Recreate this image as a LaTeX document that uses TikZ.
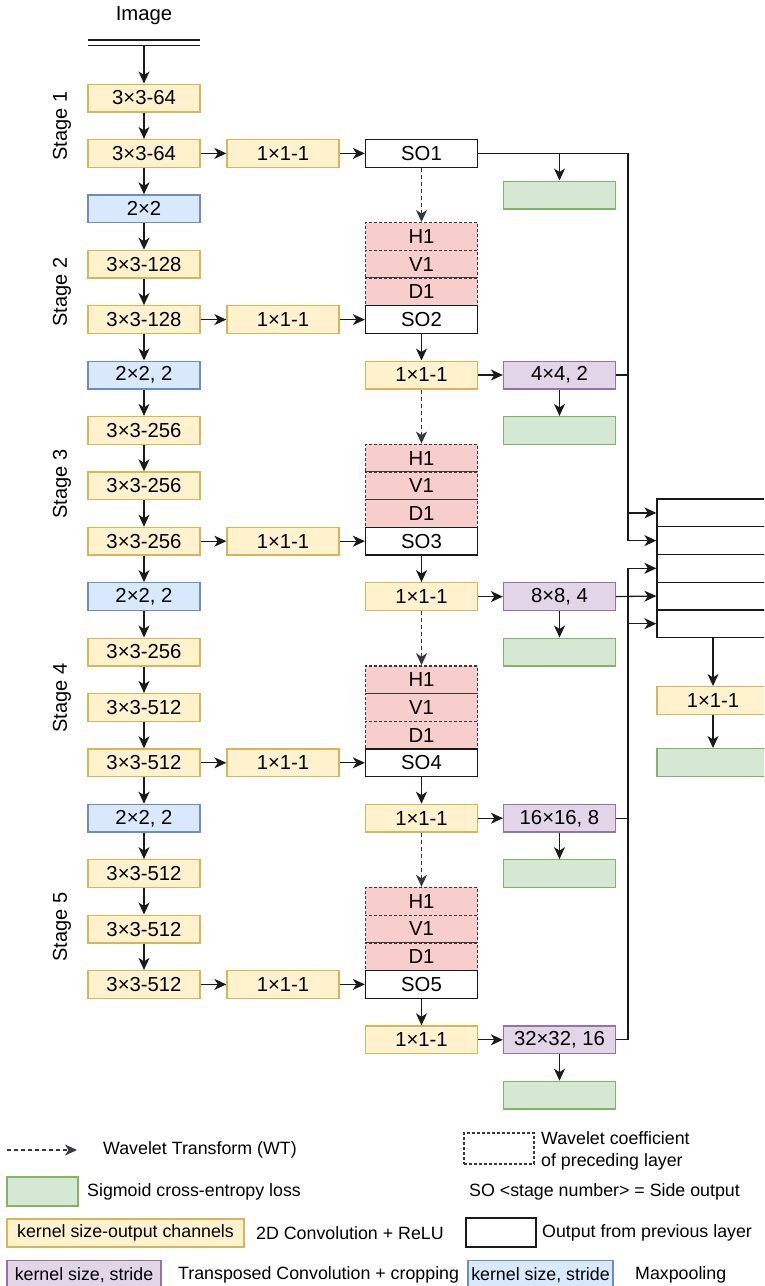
\documentclass[tikz,border=0pt]{standalone}
\usepackage{fontspec}
\setmainfont{Liberation Sans}
\usetikzlibrary{arrows.meta}
\definecolor{yfill}{HTML}{FFF2CC}\definecolor{ydraw}{HTML}{D6B656}
\definecolor{bfill}{HTML}{DAE8FC}\definecolor{bdraw}{HTML}{6C8EBF}
\definecolor{gfill}{HTML}{D5E8D4}\definecolor{gdraw}{HTML}{82B366}
\definecolor{pfill}{HTML}{E1D5E7}\definecolor{pdraw}{HTML}{9673A6}
\definecolor{rfill}{HTML}{F8CECC}
\definecolor{lnc}{HTML}{1A1A1A}
\definecolor{wtc}{HTML}{36393D}
\begin{document}
\begin{tikzpicture}[x=1pt,y=-1pt,
  box/.style={draw, line width=1.3pt, minimum width=112pt, minimum height=27.7pt, inner sep=0pt, font=\fontsize{20.3}{24}\selectfont},
  conv/.style={box, fill=yfill, draw=ydraw},
  pool/.style={box, fill=bfill, draw=bdraw},
  loss/.style={box, fill=gfill, draw=gdraw},
  deconv/.style={box, fill=pfill, draw=pdraw},
  so/.style={box, fill=white, draw=lnc},
  wt/.style={box, fill=rfill, draw=wtc, dash pattern=on 3pt off 2pt},
  arr/.style={-{Stealth[length=12pt,width=11pt,inset=3.5pt]}, line width=1.3pt, draw=lnc},
  wtarr/.style={-{Stealth[length=12pt,width=11pt,inset=3.5pt]}, line width=1.3pt, draw=wtc, fill=wtc, dash pattern=on 4pt off 3pt},
  ln/.style={line width=1.3pt, draw=lnc},
  leg/.style={font=\fontsize{17.8}{22}\selectfont, anchor=west, inner sep=0pt},
  legbox/.style={draw, line width=1.3pt, inner sep=0pt, font=\fontsize{17.8}{22}\selectfont},
  stage/.style={rotate=90, font=\fontsize{20}{24}\selectfont, inner sep=0pt},
]
\useasboundingbox (0,0) rectangle (764,1286);
\clip (0,0) rectangle (764,1286);

% ---- input
\node[font=\fontsize{20.3}{24}\selectfont] (img) at (144,16) {Image};
\coordinate (imgL1) at (88,40); \coordinate (imgR1) at (200,40);
\coordinate (imgL2) at (88,45.5); \coordinate (imgR2) at (200,45.5);
\coordinate (imgin) at (144,45.5);
\draw[ln] (imgL1) -- (imgR1);
\draw[ln] (imgL2) -- (imgR2);

% ---- left column
\node[conv] (c0)  at (144,98)    {3×3-64};
\node[conv] (c1)  at (144,153.4) {3×3-64};
\node[pool] (c2)  at (144,208.8) {2×2};
\node[conv] (c3)  at (144,264.2) {3×3-128};
\node[conv] (c4)  at (144,319.6) {3×3-128};
\node[pool] (c5)  at (144,375)   {2×2, 2};
\node[conv] (c6)  at (144,430.4) {3×3-256};
\node[conv] (c7)  at (144,485.8) {3×3-256};
\node[conv] (c8)  at (144,541.2) {3×3-256};
\node[pool] (c9)  at (144,596.6) {2×2, 2};
\node[conv] (c10) at (144,652)   {3×3-256};
\node[conv] (c11) at (144,707.4) {3×3-512};
\node[conv] (c12) at (144,762.8) {3×3-512};
\node[pool] (c13) at (144,818.2) {2×2, 2};
\node[conv] (c14) at (144,873.6) {3×3-512};
\node[conv] (c15) at (144,929)   {3×3-512};
\node[conv] (c16) at (144,984.4) {3×3-512};

\draw[arr] (imgin) -- (c0.north);
\foreach \a/\b in {c0/c1,c1/c2,c2/c3,c3/c4,c4/c5,c5/c6,c6/c7,c7/c8,c8/c9,c9/c10,c10/c11,c11/c12,c12/c13,c13/c14,c14/c15,c15/c16}
  \draw[arr] (\a.south) -- (\b.north);

% ---- stage labels
\node[stage] (s1) at (62,126)   {Stage 1};
\node[stage] (s2) at (62,292)   {Stage 2};
\node[stage] (s3) at (62,484)   {Stage 3};
\node[stage] (s4) at (62,698)   {Stage 4};
\node[stage] (s5) at (62,927)   {Stage 5};

% ---- 1x1 side convs
\node[conv] (k1) at (283,153.4) {1×1-1};
\node[conv] (k2) at (283,319.6) {1×1-1};
\node[conv] (k3) at (283,541.2) {1×1-1};
\node[conv] (k4) at (283,762.8) {1×1-1};
\node[conv] (k5) at (283,984.4) {1×1-1};

% ---- wavelet coefficient stacks and side outputs
\node[wt] (h2) at (421.5,236.5) {H1};
\node[wt] (v2) at (421.5,264.2) {V1};
\node[wt] (d2) at (421.5,291.9) {D1};
\node[wt] (h3) at (421.5,458.1) {H1};
\node[wt] (v3) at (421.5,485.8) {V1};
\node[wt] (d3) at (421.5,513.5) {D1};
\node[wt] (h4) at (421.5,679.7) {H1};
\node[wt] (v4) at (421.5,707.4) {V1};
\node[wt] (d4) at (421.5,735.1) {D1};
\node[wt] (h5) at (421.5,901.3) {H1};
\node[wt] (v5) at (421.5,929)   {V1};
\node[wt] (d5) at (421.5,956.7) {D1};

\node[so] (so1) at (421.5,153.4) {SO1};
\node[so] (so2) at (421.5,319.6) {SO2};
\node[so] (so3) at (421.5,541.2) {SO3};
\node[so] (so4) at (421.5,762.8) {SO4};
\node[so] (so5) at (421.5,984.4) {SO5};

\node[conv] (m2) at (421.5,375)    {1×1-1};
\node[conv] (m3) at (421.5,596.6)  {1×1-1};
\node[conv] (m4) at (421.5,818.2)  {1×1-1};
\node[conv] (m5) at (421.5,1039.8) {1×1-1};

% ---- upsampling and losses
\node[deconv] (u2) at (559.5,375)    {4×4, 2};
\node[deconv] (u3) at (559.5,596.6)  {8×8, 4};
\node[deconv] (u4) at (559.5,818.2)  {16×16, 8};
\node[deconv] (u5) at (559.5,1039.8) {32×32, 16};

\node[loss] (l1) at (559.5,195)    {};
\node[loss] (l2) at (559.5,430.4)  {};
\node[loss] (l3) at (559.5,652)    {};
\node[loss] (l4) at (559.5,873.6)  {};
\node[loss] (l5) at (559.5,1095.2) {};

% ---- fusion
\node[so] (f1) at (713,512.9) {};
\node[so] (f2) at (713,540.6) {};
\node[so] (f3) at (713,568.3) {};
\node[so] (f4) at (713,596)   {};
\node[so] (f5) at (713,623.7) {};
\node[conv] (fc) at (713,700.5) {1×1-1};
\node[loss] (fl) at (713,762.5) {};

% ---- connectors: conv -> 1x1 -> SO
\foreach \a/\b/\c in {c1/k1/so1,c4/k2/so2,c8/k3/so3,c12/k4/so4,c16/k5/so5}{
  \draw[arr] (\a.east) -- (\b.west);
  \draw[arr] (\b.east) -- (\c.west);
}
% SO -> 1x1 -> deconv -> loss
\foreach \a/\b/\c/\d in {so2/m2/u2/l2,so3/m3/u3/l3,so4/m4/u4/l4,so5/m5/u5/l5}{
  \draw[arr] (\a.south) -- (\b.north);
  \draw[arr] (\b.east) -- (\c.west);
  \draw[arr] (\c.south) -- (\d.north);
}
% wavelet transforms
\draw[wtarr] (so1.south) -- (h2.north);
\draw[wtarr] (m2.south) -- (h3.north);
\draw[wtarr] (m3.south) -- (h4.north);
\draw[wtarr] (m4.south) -- (h5.north);

% bus A
\coordinate (bA) at (628,153.4);
\coordinate (bB) at (628,568.3);
\draw[arr] (so1.east) -- (bA) |- (f1.west);
\draw[arr] (f1.west -| bA) |- (f2.west);
\draw[arr] (so1.east -| l1.north) -- (l1.north);
\draw[ln] (u2.east) -- (u2.east -| bA);
% bus B
\draw[arr] (u5.east) -| (bB) -- (f3.west);
\draw[arr] (f5.west -| bB) -- (f5.west);
\draw[ln] (u4.east) -- (u4.east -| bB);
\draw[arr] (u3.east) -- (f4.west);
% fusion out
\draw[arr] (f5.south) -- (fc.north);
\draw[arr] (fc.south) -- (fl.north);

% ---- legend
\coordinate (la) at (7,1150); \coordinate (lb) at (77,1150);
\draw[wtarr] (la) -- (lb);
\node[leg] (t1) at (103,1150) {Wavelet Transform (WT)};

\node[legbox, draw=wtc, dash pattern=on 3pt off 2pt, minimum width=70pt, minimum height=31pt] (lw) at (499,1148.5) {};
\node[leg, align=left] (t2) at (541,1151) {Wavelet coefficient\\of preceding layer};

\node[legbox, fill=gfill, draw=gdraw, minimum width=71pt, minimum height=29pt] (lg) at (42.5,1191.5) {};
\node[leg] (t3) at (87,1192) {Sigmoid cross-entropy loss};
\node[leg] (t4) at (469,1192) {SO <stage number> = Side output};

\node[legbox, fill=yfill, draw=ydraw, minimum width=237pt, minimum height=28pt] (ly) at (125.5,1233) {kernel size-output channels};
\node[leg] (t5) at (256,1233) {2D Convolution + ReLU};
\node[legbox, fill=white, draw=lnc, minimum width=70pt, minimum height=29pt] (lo) at (501,1232.5) {};
\node[leg] (t6) at (542,1233) {Output from previous layer};

\node[legbox, fill=pfill, draw=pdraw, minimum width=154pt, minimum height=29pt] (lp) at (84,1275) {kernel size, stride};
\node[leg] (t7) at (178,1275) {Transposed Convolution + cropping};
\node[legbox, fill=bfill, draw=bdraw, minimum width=145pt, minimum height=29pt] (lbx) at (540.5,1275) {kernel size, stride};
\node[leg] (t8) at (635,1275) {Maxpooling};
\end{tikzpicture}
\end{document}
